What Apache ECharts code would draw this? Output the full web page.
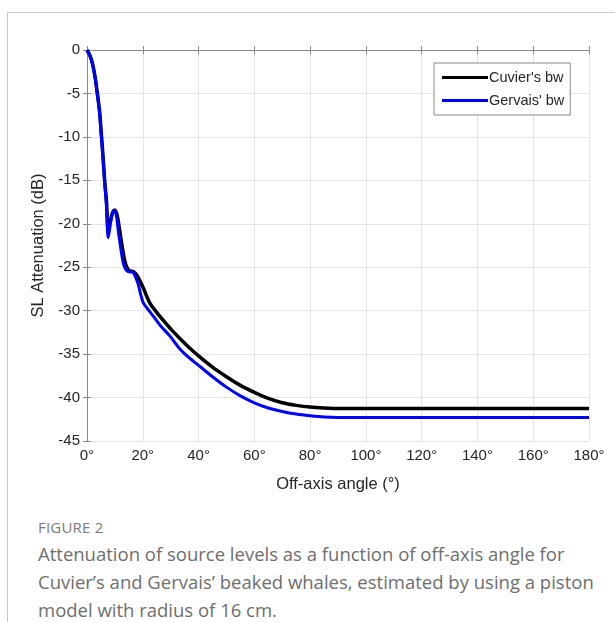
<!DOCTYPE html>
<html>
<head>
<meta charset="utf-8">
<script src="https://cdn.jsdelivr.net/npm/echarts@6/dist/echarts.min.js"></script>
<style>
  html, body { margin:0; padding:0; background:#fff; }
  #wrap { position:relative; width:615px; height:622px; overflow:hidden; }
  #frame { position:absolute; left:7px; top:12px; width:620px; height:620px; border-top:1px solid #c8c8c8; border-left:1px solid #c8c8c8; }
  #chart { position:absolute; left:0; top:0; width:615px; height:500px; }
  #fig { position:absolute; left:38px; top:517px; font-family:"Open Sans", sans-serif; font-size:15px; color:#7a7a7a; letter-spacing:0.2px; }
  #cap { position:absolute; left:38px; top:540px; width:557px; font-family:"Open Sans", sans-serif; font-size:18.5px; line-height:28px; color:#6e6e6e; }
</style>
</head>
<body>
<div id="wrap">
  <div id="frame"></div>
  <div id="chart"></div>
  <div id="fig">FIGURE 2</div>
  <div id="cap">Attenuation of source levels as a function of off-axis angle for Cuvier’s and Gervais’ beaked whales, estimated by using a piston model with radius of 16 cm.</div>
</div>
<script>
// Data: [off-axis angle (deg), attenuation (dB)]
const seriesNames = ["Cuvier's bw", "Gervais' bw"];
const cuvier = [[0,0],[1,-0.6],[2,-1.6],[3,-3.3],[3.5,-4.5],[4.5,-7],[5.1,-9.5],[5.7,-12],[6.3,-14.9],[7,-17.5],[7.6,-20.6],[8.5,-19.5],[9.3,-18.6],[10,-18.4],[10.8,-19],[11.6,-20.5],[12.6,-22.6],[13.5,-24.2],[14.3,-25],[15.2,-25.4],[16.6,-25.5],[17.6,-25.8],[18.4,-26.2],[20.2,-27.4],[22.5,-29.1],[25,-30.2],[27.3,-31.1],[30,-32.1],[33.3,-33.2],[36.5,-34.2],[40,-35.2],[45,-36.5],[50,-37.6],[55,-38.6],[60,-39.4],[65,-40.1],[70,-40.6],[75,-40.9],[80,-41.1],[85,-41.2],[90,-41.25],[180,-41.25]];
const gervais = [[0,0],[1,-0.6],[2,-1.7],[3,-3.4],[3.5,-4.6],[4.5,-7.2],[5.1,-9.8],[5.7,-12.3],[6.3,-15.1],[7,-18],[7.6,-21.6],[8.4,-20],[9.2,-18.7],[9.9,-18.5],[10.6,-19.2],[11.3,-21],[12.2,-23],[13,-24.5],[13.8,-25.2],[14.8,-25.5],[16.5,-25.6],[17.5,-26.2],[18.4,-27],[19.3,-28.2],[20.2,-29.1],[22,-29.9],[23.7,-30.6],[26.5,-31.8],[29.7,-32.9],[33.3,-34.4],[36.9,-35.5],[40,-36.3],[45,-37.6],[50,-38.8],[55,-39.8],[60,-40.6],[65,-41.2],[70,-41.6],[75,-41.9],[80,-42.1],[85,-42.25],[90,-42.3],[180,-42.3]];
const xTicks = [0,20,40,60,80,100,120,140,160,180];
const yTicks = [0,-5,-10,-15,-20,-25,-30,-35,-40,-45];

const chart = echarts.init(document.getElementById('chart'), null, {renderer:'canvas'});
const FONT = 'Liberation Sans, Arial, sans-serif';
const axisLineStyle = {color:'#8a8a8a', width:1};
chart.setOption({
  animation:false,
  grid:{left:87, right:26, top:50, height:391, containLabel:false},
  legend:{
    left:434, top:63, orient:'vertical', itemWidth:46, itemHeight:3, itemGap:8,
    padding:[7,6,7,8], backgroundColor:'#fff', borderColor:'#8a8a8a', borderWidth:1,
    textStyle:{fontFamily:FONT, fontSize:14.5, color:'#262626', padding:[0,0,0,-4]},
    icon:'rect', data:seriesNames
  },
  xAxis:[{
    type:'value', min:0, max:180, interval:20, position:'bottom',
    name:'Off-axis angle (°)', nameLocation:'middle', nameGap:35,
    nameTextStyle:{fontFamily:FONT, fontSize:16.5, color:'#262626'},
    axisLine:{show:true, lineStyle:axisLineStyle},
    axisTick:{show:true, inside:true, length:4, lineStyle:axisLineStyle},
    axisLabel:{fontFamily:FONT, fontSize:15, color:'#262626', margin:7, formatter:v=>xTicks.includes(v)? v+'°':''},
    splitLine:{show:true, lineStyle:{color:'#e4e4e4', width:1}}
  },{
    type:'value', min:0, max:180, interval:20, position:'top',
    axisLine:{show:true, lineStyle:axisLineStyle},
    axisTick:{show:true, inside:true, length:4, lineStyle:axisLineStyle},
    axisLabel:{show:false}, splitLine:{show:false}
  }],
  yAxis:[{
    type:'value', min:-45, max:0, interval:5, position:'left',
    name:'SL Attenuation (dB)', nameLocation:'middle', nameGap:40, nameRotate:90,
    nameTextStyle:{fontFamily:FONT, fontSize:16.5, color:'#262626'},
    axisLine:{show:true, lineStyle:axisLineStyle},
    axisTick:{show:true, inside:true, length:4, lineStyle:axisLineStyle},
    axisLabel:{fontFamily:FONT, fontSize:15, color:'#262626', margin:7, formatter:v=>yTicks.includes(v)? String(v):''},
    splitLine:{show:true, lineStyle:{color:'#e4e4e4', width:1}}
  },{
    type:'value', min:-45, max:0, interval:5, position:'right',
    axisLine:{show:true, lineStyle:axisLineStyle},
    axisTick:{show:true, inside:true, length:4, lineStyle:axisLineStyle},
    axisLabel:{show:false}, splitLine:{show:false}
  }],
  series:[
    {name:seriesNames[0], type:'line', data:cuvier, showSymbol:false, smooth:0.3, lineStyle:{color:'#000', width:3.5}, itemStyle:{color:'#000'}, z:2},
    {name:seriesNames[1], type:'line', data:gervais, showSymbol:false, smooth:0.3, lineStyle:{color:'#0000ff', width:3}, itemStyle:{color:'#0000ff'}, z:3}
  ]
});
</script>
</body>
</html>
